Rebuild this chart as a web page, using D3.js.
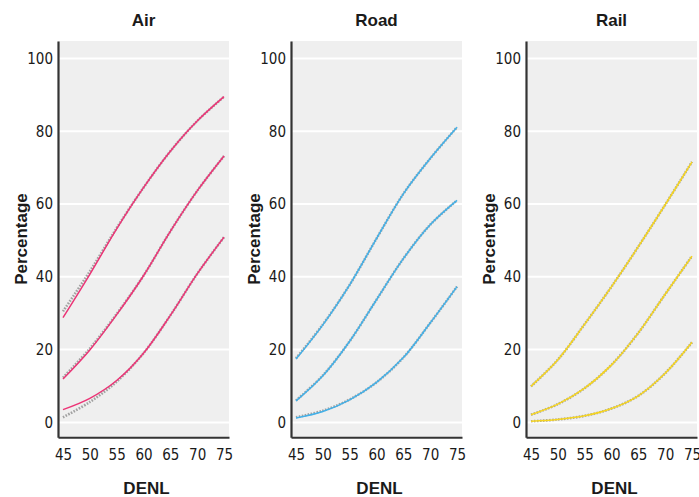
<!DOCTYPE html>
<head>
  <meta charset="utf-8">
  <script src="https://d3js.org/d3.v7.min.js"></script>
  <style>
    body { margin:0; background:#fff; }
    text { font-family: "Liberation Sans", Arial, sans-serif; fill:#1a1a1a; }
    .tick text { font-family: "Liberation Sans Narrow", "Arial Narrow", "DejaVu Sans Condensed", sans-serif; font-size:15px; }
    .title, .axis-title { font-weight:bold; font-size:17px; }
  </style>
</head>

<body>
  <svg width="699" height="497"></svg>
  <script>

    // DENL (dB) at which the curves were read
    var dnl = [45, 50, 55, 60, 65, 70, 75];

    var modes = ["Air", "Road", "Rail"];
    var modeColours = ["#ec3476", "#42b0e8", "#f5d420"];

    // coloured curves, top / middle / bottom (percentage)
    var airTop = [28.8, 40.7, 53.2, 64.5, 74.5, 82.8, 89.5];
    var airMid = [11.9, 19.9, 29.6, 40.3, 52.5, 63.6, 73.2];
    var airLow = [3.5, 6.6, 11.5, 19.0, 29.4, 40.8, 50.9];

    var roadTop = [17.4, 26.8, 37.8, 50.5, 62.8, 72.5, 81.1];
    var roadMid = [5.9, 12.8, 22.3, 33.7, 45.0, 54.3, 61.0];
    var roadLow = [1.2, 3.0, 6.2, 11.0, 17.8, 27.3, 37.3];

    var railTop = [9.9, 17.2, 27.0, 37.3, 48.3, 59.8, 71.6];
    var railMid = [2.1, 5.0, 9.4, 15.8, 24.6, 35.2, 45.7];
    var railLow = [0.3, 0.8, 1.8, 3.8, 7.3, 13.5, 22.0];

    // grey dashed curves
    var airTopDash = [30.5, 41.5, 53.4, 64.5, 74.5, 82.8, 89.5];
    var airMidDash = [12.3, 20.3, 29.8, 40.3, 52.5, 63.6, 73.2];
    var airLowDash = [1.4, 5.6, 11.2, 19.0, 29.4, 40.8, 50.9];

    var roadTopDash = [17.6, 26.9, 37.8, 50.5, 62.8, 72.5, 81.1];
    var roadMidDash = [6.0, 12.9, 22.3, 33.7, 45.0, 54.3, 61.0];
    var roadLowDash = [1.4, 3.2, 6.3, 11.0, 17.8, 27.3, 37.3];

    var railTopDash = [9.9, 17.2, 27.0, 37.3, 48.3, 59.8, 71.6];
    var railMidDash = [2.1, 5.0, 9.4, 15.8, 24.6, 35.2, 45.7];
    var railLowDash = [0.3, 0.8, 1.8, 3.8, 7.3, 13.5, 22.0];

    var yTicks = [0, 20, 40, 60, 80, 100];
    var xTicks = [45, 50, 55, 60, 65, 70, 75];

    var solid = [[airTop, airMid, airLow], [roadTop, roadMid, roadLow], [railTop, railMid, railLow]];
    var dashed = [[airTopDash, airMidDash, airLowDash], [roadTopDash, roadMidDash, roadLowDash], [railTopDash, railMidDash, railLowDash]];

    var svg = d3.select("svg");

    var panelLeft = [58, 291, 526];
    var panelW = 171;
    var plotTop = 41, plotBottom = 437.3;

    var x = d3.scaleLinear().domain([44.07, 75.93]).range([0, panelW]);
    var y = d3.scaleLinear().domain([-4.1, 104.8]).range([plotBottom, plotTop]);

    var line = d3.line()
      .x(function(d) { return x(d[0]); })
      .y(function(d) { return y(d[1]); })
      .curve(d3.curveCatmullRom.alpha(0.5));

    modes.forEach(function(mode, m) {
      var g = svg.append("g").attr("transform", "translate(" + panelLeft[m] + ",0)");

      g.append("rect")
        .attr("x", 0).attr("y", plotTop)
        .attr("width", panelW).attr("height", plotBottom - plotTop)
        .attr("fill", "#efefef");

      g.selectAll(".grid")
        .data(yTicks)
        .enter().append("line")
        .attr("x1", 0).attr("x2", panelW)
        .attr("y1", function(d) { return y(d); })
        .attr("y2", function(d) { return y(d); })
        .attr("stroke", "#fff")
        .attr("stroke-width", 2);

      // grey dashed underneath, coloured line on top
      dashed[m].forEach(function(vals) {
        g.append("path")
          .attr("d", line(dnl.map(function(d, i) { return [d, vals[i]]; })))
          .attr("fill", "none")
          .attr("stroke", "#808080")
          .attr("stroke-width", 2.6)
          .attr("stroke-dasharray", "1.6,1.4")
          .attr("opacity", 0.7);
      });
      solid[m].forEach(function(vals) {
        g.append("path")
          .attr("d", line(dnl.map(function(d, i) { return [d, vals[i]]; })))
          .attr("fill", "none")
          .attr("stroke", modeColours[m])
          .attr("stroke-width", 1.5);
      });

      var yAxis = g.append("g")
        .call(d3.axisLeft(y).tickValues(yTicks).tickSize(0).tickPadding(5));
      yAxis.select(".domain").attr("stroke", "#333").attr("stroke-width", 2.2);

      var xAxis = g.append("g")
        .attr("transform", "translate(0," + plotBottom + ")")
        .call(d3.axisBottom(x).tickValues(xTicks).tickSize(0).tickPadding(12));
      xAxis.select(".domain").attr("stroke", "#333").attr("stroke-width", 2);
      g.selectAll(".tick text").attr("fill", "#1a1a1a");

      g.append("text")
        .attr("class", "title")
        .attr("x", panelW / 2)
        .attr("y", 26)
        .attr("text-anchor", "middle")
        .text(mode);

      g.append("text")
        .attr("class", "axis-title")
        .attr("x", panelW / 2 + 3)
        .attr("y", 494)
        .attr("text-anchor", "middle")
        .text("DENL");

      g.append("text")
        .attr("class", "axis-title")
        .attr("transform", "translate(-31,239) rotate(-90)")
        .attr("text-anchor", "middle")
        .text("Percentage");
    });

  </script>
</body>
